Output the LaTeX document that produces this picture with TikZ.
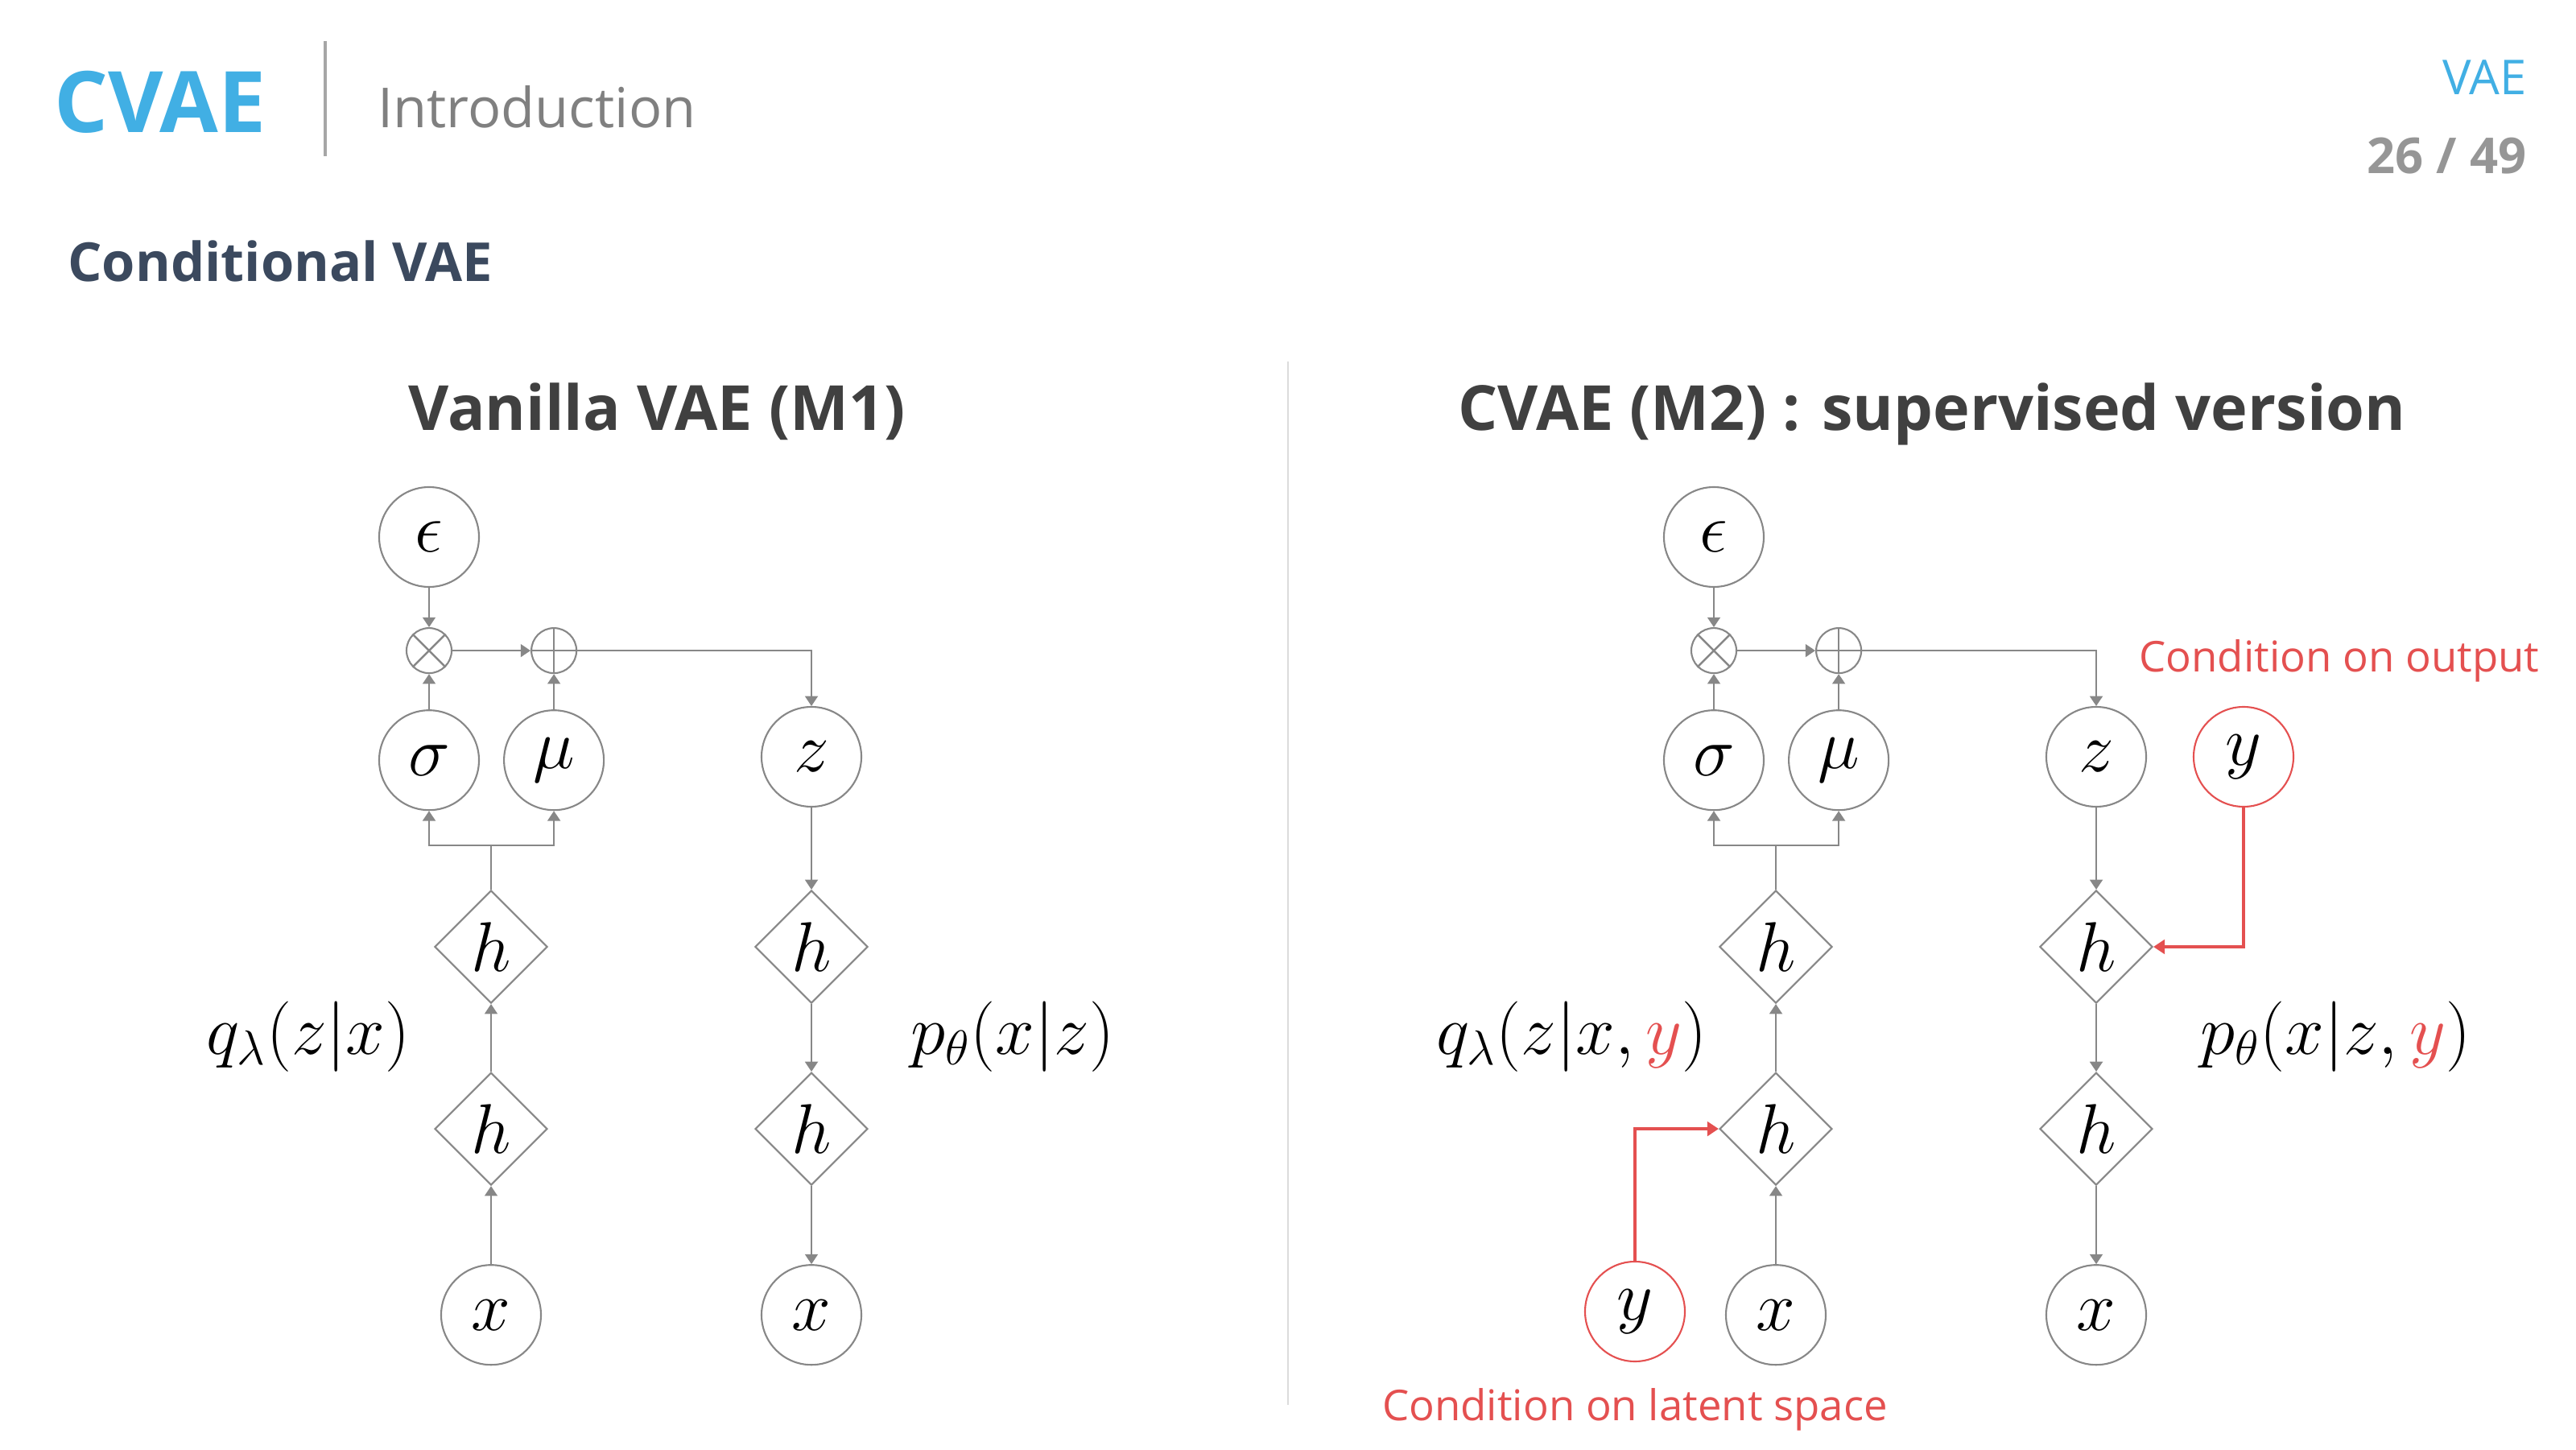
\documentclass[tikz,border=0pt]{standalone}
\usepackage[no-math]{fontspec}
\setmainfont{Open Sans}
\usetikzlibrary{arrows.meta}
\usetikzlibrary{shapes.geometric}
\usetikzlibrary{positioning}

\definecolor{cvaeblue}{RGB}{65,175,228}
\definecolor{textgray}{RGB}{128,128,128}
\definecolor{pagegray}{RGB}{150,150,150}
\definecolor{slate}{RGB}{59,73,94}
\definecolor{titlegray}{RGB}{64,64,64}
\definecolor{linegray}{RGB}{135,135,135}
\definecolor{divgray}{RGB}{220,220,220}
\definecolor{condred}{RGB}{228,80,80}

\begin{document}
\begin{tikzpicture}[
  var/.style   = {draw=linegray, circle, line width=0.6pt, minimum size=1.24cm, inner sep=0pt, font=\fontsize{24}{28}\selectfont},
  cvar/.style  = {var, draw=condred},
  op/.style    = {draw=linegray, circle, line width=0.6pt, minimum size=0.56cm, inner sep=0pt},
  hid/.style   = {draw=linegray, diamond, aspect=1, line width=0.6pt, minimum size=1.4cm, inner sep=0pt, font=\fontsize{24}{28}\selectfont},
  lbl/.style   = {font=\fontsize{24}{28}\selectfont},
  wire/.style  = {draw=linegray, line width=0.7pt},
  link/.style  = {wire, -{Triangle[length=3.5pt,width=4.5pt]}},
  cond/.style  = {draw=condred, line width=1.1pt, -{Triangle[length=4pt,width=5pt]}},
  note/.style  = {text=condred, font=\fontsize{15}{18}\selectfont},
  title/.style = {text=titlegray, font=\fontsize{22}{26}\selectfont\bfseries},
  node distance = 0.45cm
]
  \useasboundingbox (0,0) rectangle (32,18);

  % header
  \node[anchor=base west, text=cvaeblue, font=\fontsize{30}{35}\selectfont\bfseries] (brand) at (0.55,16.35) {CVAE};
  \draw[textgray!70, line width=1pt] (4.04,17.49) -- (4.04,16.06);
  \node[anchor=base west, text=textgray, font=\fontsize{19.5}{24}\selectfont] (intro) at (4.57,16.41) {Introduction};
  \node[anchor=base east, text=cvaeblue, font=\fontsize{17}{20}\selectfont] (sect) at (31.51,16.82) {VAE};
  \node[anchor=base east, text=pagegray, font=\fontsize{17.5}{20}\selectfont\bfseries] (page) at (31.51,15.84) {26 / 49};
  \node[anchor=base west, text=slate, font=\fontsize{19}{23}\selectfont\bfseries] (head) at (0.72,14.50) {Conditional VAE};
  \draw[divgray, line width=0.8pt] (16.00,13.51) -- (16.00,0.55);

  \node[title, anchor=base] (titleA) at (8.16,12.65) {Vanilla VAE (M1)};
  \node[title, anchor=base] (titleB) at (24.00,12.65) {CVAE (M2) : supervised version};

  % vanilla VAE
  \node[var] (eps) at (5.33,11.33) {$\epsilon$};
  \node[op,  below=0.49cm of eps] (mul) {};
  \node[var, below=0.44cm of mul] (sigma) {$\sigma$};
  \node[var, right=0.29cm of sigma] (mu) {$\mu$};
  \node[op] (add) at (mul -| mu) {};
  \node[var] (z) at (10.08,8.60) {$z$};
  \node[hid] (hA) at (6.10,6.24) {$h$};
  \node[hid, below=0.84cm of hA] (hB) {$h$};
  \node[var, below=0.97cm of hB] (xA) {$x$};
  \node[hid] (hC) at (hA -| z) {$h$};
  \node[hid] (hD) at (hB -| z) {$h$};
  \node[var] (xB) at (xA -| z) {$x$};
  \coordinate[above=0.55cm of hA] (jA);
  \node[lbl, anchor=east] (qA) at (5.22,5.12) {$q_\lambda(z|x)$};
  \node[lbl, anchor=west] (pA) at (11.19,5.12) {$p_\theta(x|z)$};

  \draw[wire] (mul.45) -- (mul.225) (mul.135) -- (mul.315);
  \draw[wire] (add.north) -- (add.south) (add.west) -- (add.east);
  \draw[link] (eps) -- (mul);
  \draw[link] (sigma) -- (mul);
  \draw[link] (mu) -- (add);
  \draw[link] (mul) -- (add);
  \draw[link] (add) -| (z);
  \draw[wire] (hA) -- (jA);
  \draw[link] (jA) -| (sigma);
  \draw[link] (jA) -| (mu);
  \draw[link] (hB) -- (hA);
  \draw[link] (xA) -- (hB);
  \draw[link] (z) -- (hC);
  \draw[link] (hC) -- (hD);
  \draw[link] (hD) -- (xB);

  % CVAE
  \node[var] (eps2) at (21.29,11.33) {$\epsilon$};
  \node[op,  below=0.49cm of eps2] (mul2) {};
  \node[var, below=0.44cm of mul2] (sigma2) {$\sigma$};
  \node[var, right=0.29cm of sigma2] (mu2) {$\mu$};
  \node[op] (add2) at (mul2 -| mu2) {};
  \node[var] (z2) at (26.04,8.60) {$z$};
  \node[cvar] (yT) at (27.87,8.60) {$y$};
  \node[hid] (hE) at (22.06,6.24) {$h$};
  \node[hid, below=0.84cm of hE] (hF) {$h$};
  \node[var, below=0.97cm of hF] (xC) {$x$};
  \node[cvar] (yB) at (20.31,1.71) {$y$};
  \node[hid] (hG) at (hE -| z2) {$h$};
  \node[hid] (hH) at (hF -| z2) {$h$};
  \node[var] (xD) at (xC -| z2) {$x$};
  \coordinate[above=0.55cm of hE] (jB);
  \node[lbl, anchor=east] (qB) at (21.33,5.12) {$q_\lambda(z|x,\textcolor{condred}{y})$};
  \node[lbl, anchor=west] (pB) at (27.21,5.12) {$p_\theta(x|z,\textcolor{condred}{y})$};
  \node[note, anchor=west] (outnote) at (26.45,9.79) {Condition on output};
  \node[note, below=0.2cm of yB] (latnote) {Condition on latent space};

  \draw[wire] (mul2.45) -- (mul2.225) (mul2.135) -- (mul2.315);
  \draw[wire] (add2.north) -- (add2.south) (add2.west) -- (add2.east);
  \draw[link] (eps2) -- (mul2);
  \draw[link] (sigma2) -- (mul2);
  \draw[link] (mu2) -- (add2);
  \draw[link] (mul2) -- (add2);
  \draw[link] (add2) -| (z2);
  \draw[wire] (hE) -- (jB);
  \draw[link] (jB) -| (sigma2);
  \draw[link] (jB) -| (mu2);
  \draw[link] (hF) -- (hE);
  \draw[link] (xC) -- (hF);
  \draw[link] (z2) -- (hG);
  \draw[link] (hG) -- (hH);
  \draw[link] (hH) -- (xD);
  \draw[cond] (yT) |- (hG);
  \draw[cond] (yB) |- (hF);
\end{tikzpicture}
\end{document}
